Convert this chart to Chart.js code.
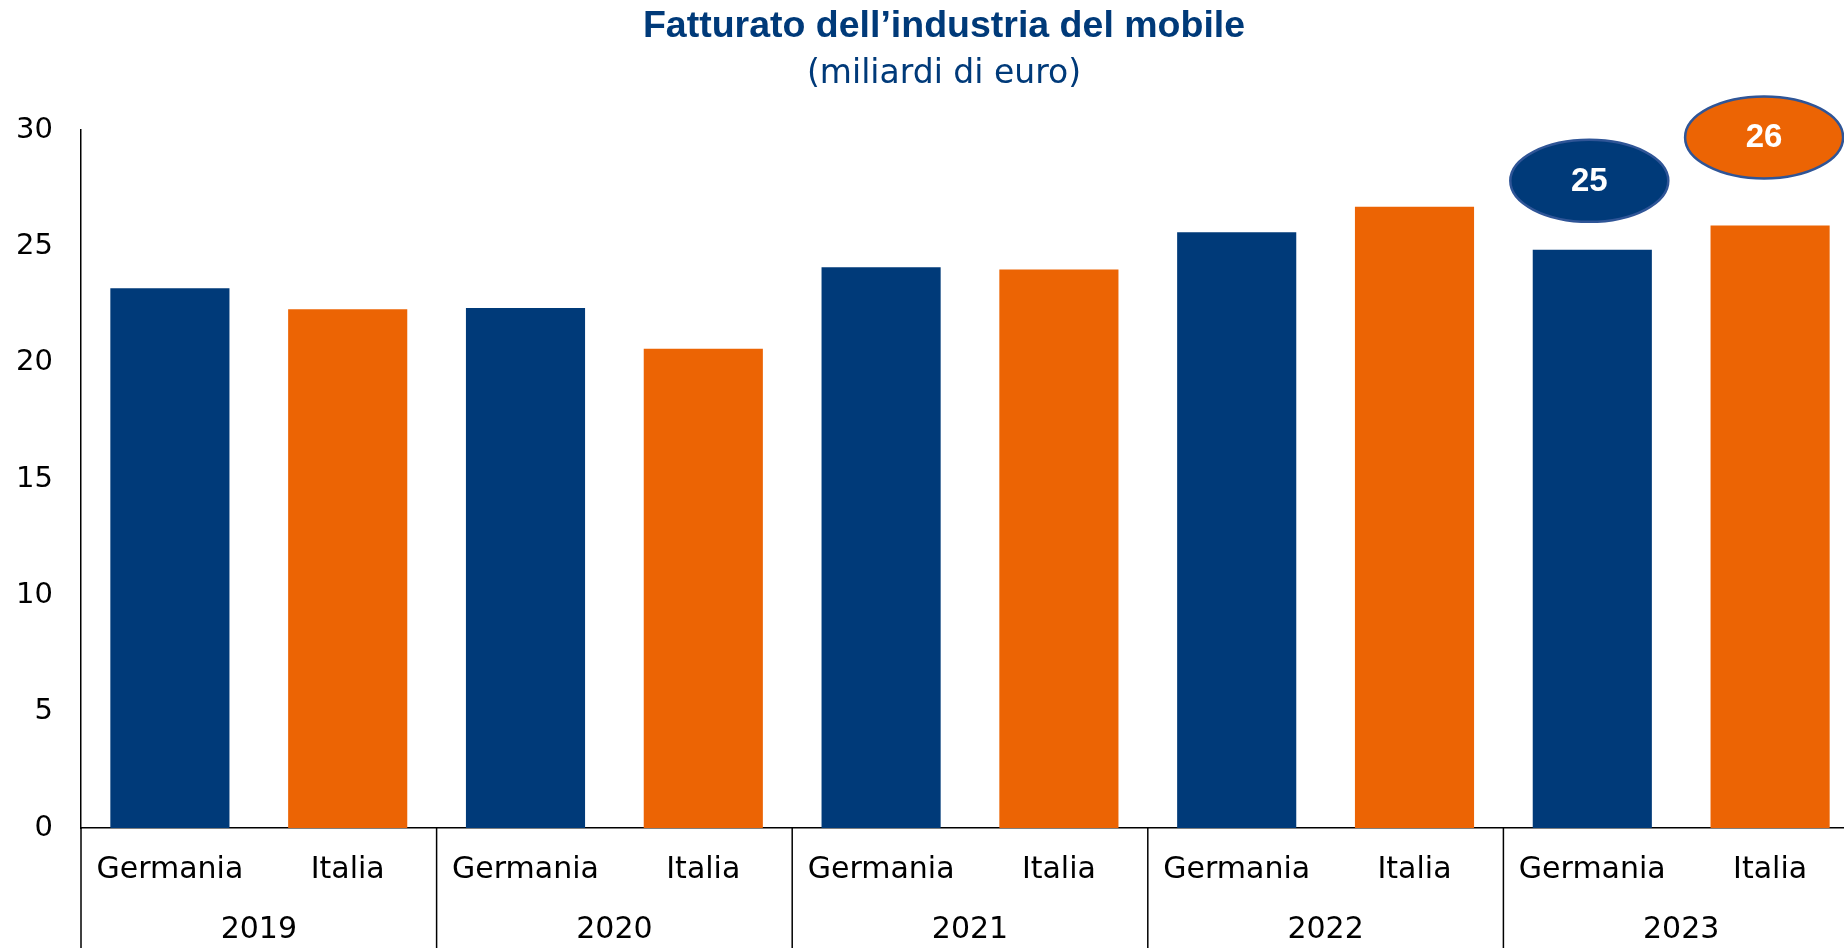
<!DOCTYPE html>
<html lang="it">
<head>
<meta charset="utf-8">
<title>Fatturato dell'industria del mobile</title>
<script src="https://cdn.jsdelivr.net/npm/chart.js@4.4.1/dist/chart.umd.min.js"></script>
<style>
  html, body { margin: 0; padding: 0; background: #fff; overflow: hidden; }
  #frame { width: 1844px; height: 948px; overflow: hidden; position: relative; }
  #wrap { width: 1888px; height: 948px; position: absolute; left: 0; top: 0; }
</style>
</head>
<body>
<div id="frame"><div id="wrap"><canvas id="chartFatturato"></canvas></div></div>
<script>
// dati (miliardi di euro)
const anni = ['2019', '2020', '2021', '2022', '2023'];
const paesi = ['Germania', 'Italia'];
const germania = [23.2, 22.35, 24.1, 25.6, 24.85];
const italia = [22.3, 20.6, 24.0, 26.7, 25.9];
const yTicks = [0, 5, 10, 15, 20, 25, 30];

const titolo = 'Fatturato dell\u2019industria del mobile';
const sottotitolo = '(miliardi di euro)';

// etichette ovali sul 2023
const ovaliTesto = ['25', '26'];

const BLU = '#003a79';
const ARANCIO = '#ec6404';

// categorie piatte: Germania, Italia per ogni anno
const etichette = [];
const valori = [];
const colori = [];
anni.forEach((a, i) => {
    etichette.push(paesi[0], paesi[1]);
    valori.push(germania[i], italia[i]);
    colori.push(BLU, ARANCIO);
});

// titolo e sottotitolo (centrati sul riquadro originale del grafico)
const titoli = {
    id: 'titoli',
    afterDraw(chart) {
        const { ctx, chartArea } = chart;
        const cx = (chartArea.left + chartArea.right) / 2 - 26;
        ctx.save();
        ctx.fillStyle = BLU;
        ctx.textAlign = 'center';
        ctx.textBaseline = 'middle';
        ctx.font = 'bold 37.5px "Liberation Sans", Arial, sans-serif';
        ctx.fillText(titolo, cx, 27);
        ctx.font = '33px "DejaVu Sans", sans-serif';
        ctx.fillText(sottotitolo, cx, 74);
        ctx.restore();
    }
};

// linee di separazione tra gli anni + prolungamento asse y
const separatori = {
    id: 'separatori',
    afterDraw(chart) {
        const { ctx, chartArea, scales } = chart;
        const x2 = scales.x2;
        const h = chart.height;
        ctx.save();
        ctx.strokeStyle = '#000';
        ctx.lineWidth = 1.5;
        const xs = [chartArea.left];
        for (let i = 1; i < anni.length; i++) {
            xs.push((x2.getPixelForValue(i - 1) + x2.getPixelForValue(i)) / 2);
        }
        xs.forEach(x => {
            ctx.beginPath();
            ctx.moveTo(x, chartArea.bottom);
            ctx.lineTo(x, h);
            ctx.stroke();
        });
        ctx.restore();
    }
};

// ovali con il valore arrotondato sopra le barre 2023
const ovali = {
    id: 'ovali',
    afterDatasetsDraw(chart) {
        const { ctx } = chart;
        const meta = chart.getDatasetMeta(0);
        const ultimo = anni.length - 1;
        const barre = [meta.data[ultimo * 2], meta.data[ultimo * 2 + 1]];
        const alzo = [69, 88];
        const spost = [-3, -6];
        const fill = [BLU, ARANCIO];
        ctx.save();
        barre.forEach((bar, i) => {
            const cx = bar.x + spost[i];
            const cy = bar.y - alzo[i];
            ctx.beginPath();
            ctx.ellipse(cx, cy, 79, 41, 0, 0, Math.PI * 2);
            ctx.fillStyle = fill[i];
            ctx.fill();
            ctx.lineWidth = 2.5;
            ctx.strokeStyle = '#2f5597';
            ctx.stroke();
            ctx.fillStyle = '#fff';
            ctx.font = 'bold 33px "Liberation Sans", Arial, sans-serif';
            ctx.textAlign = 'center';
            ctx.textBaseline = 'middle';
            ctx.fillText(ovaliTesto[i], cx, cy + 1);
        });
        ctx.restore();
    }
};

new Chart(document.getElementById('chartFatturato'), {
    type: 'bar',
    data: {
        labels: etichette,
        datasets: [{
            label: 'Fatturato',
            data: valori,
            backgroundColor: colori,
            borderWidth: 0,
            barPercentage: 0.67,
            categoryPercentage: 1,
            xAxisID: 'x',
            yAxisID: 'y'
        }]
    },
    options: {
        responsive: true,
        maintainAspectRatio: false,
        devicePixelRatio: 1,
        animation: false,
        layout: { padding: { top: 130, right: 29, bottom: 0, left: 0 } },
        plugins: {
            legend: { display: false },
            tooltip: { enabled: false }
        },
        scales: {
            x: {
                type: 'category',
                position: 'bottom',
                offset: true,
                grid: { display: false, drawTicks: false },
                border: { display: true, color: '#000', width: 1.5 },
                ticks: {
                    color: '#000',
                    font: { family: '"DejaVu Sans", sans-serif', size: 30 },
                    padding: 24,
                    maxRotation: 0,
                    autoSkip: false
                },
                afterFit(scale) { scale.height = 60; }
            },
            x2: {
                type: 'category',
                position: 'bottom',
                labels: anni,
                offset: true,
                grid: { display: false, drawTicks: false },
                border: { display: false },
                ticks: {
                    color: '#000',
                    font: { family: '"DejaVu Sans", sans-serif', size: 30 },
                    padding: 24,
                    maxRotation: 0,
                    autoSkip: false
                },
                afterFit(scale) { scale.height = 60; }
            },
            y: {
                min: 0,
                max: 30,
                afterBuildTicks(scale) { scale.ticks = yTicks.map(v => ({ value: v })); },
                grid: { display: false, drawTicks: false },
                border: { display: true, color: '#000', width: 1.5 },
                ticks: {
                    color: '#000',
                    font: { family: '"DejaVu Sans", sans-serif', size: 29 },
                    padding: 28
                },
                afterFit(scale) { scale.width = 81; }
            }
        }
    },
    plugins: [titoli, separatori, ovali]
});
</script>
</body>
</html>
